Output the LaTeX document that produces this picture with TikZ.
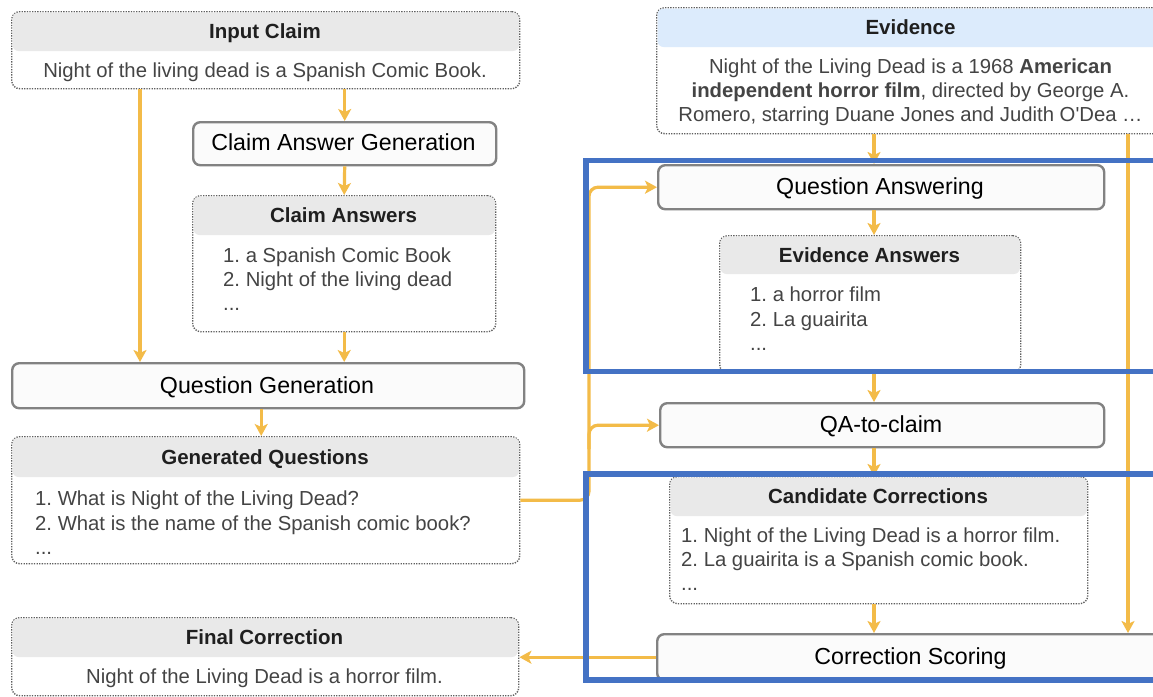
\documentclass[tikz,border=0pt]{standalone}
\usepackage{fontspec}
\setmainfont{Liberation Sans}[Ligatures=TeXOff]
\usetikzlibrary{arrows.meta,calc}
\definecolor{org}{RGB}{243,187,72}
\definecolor{blu}{RGB}{68,114,196}
\definecolor{hdr}{RGB}{233,233,233}
\definecolor{hdrblue}{RGB}{220,235,252}
\definecolor{bodytxt}{RGB}{68,68,68}
\definecolor{dotc}{RGB}{95,95,95}
\definecolor{procb}{RGB}{130,130,130}
\definecolor{procf}{RGB}{251,251,251}
\tikzset{
 infobox/.style={draw=dotc, line width=1.4pt, dash pattern=on 1.3pt off 1.3pt, rounded corners=8pt, inner sep=0pt, anchor=north west},
 procbox/.style={draw=procb, line width=2.4pt, fill=procf, rounded corners=7pt, inner sep=0pt, anchor=north west},
 hdrtxt/.style={font=\fontsize{20.5}{24}\selectfont\bfseries, text=black!88, anchor=base, inner sep=0pt},
 bodytext/.style={font=\fontsize{20.3}{24.5}\selectfont, text=bodytxt, anchor=base, inner sep=0pt},
 itemtext/.style={bodytext, anchor=base west},
 proctxt/.style={font=\fontsize{23.2}{28}\selectfont, text=black, anchor=base, inner sep=0pt},
 arr/.style={draw=org, line width=3.2pt, -{Stealth[length=12pt,width=13pt,inset=3pt]}},
 grpbox/.style={draw=blu, line width=5.5pt, inner sep=0pt, anchor=north west},
}
\frenchspacing
\begin{document}
\begin{tikzpicture}[x=1pt,y=-1pt]
\useasboundingbox (0,0) rectangle (1153,696);
\clip (0,0) rectangle (1153,696);
\fill[white] (0,0) rectangle (1153,696);
\coordinate (spine) at (874,0);
\coordinate (rail) at (1128,0);
\coordinate (bus) at (589,0);
% ---------- left column ----------
\node[infobox, minimum width=508pt, minimum height=77pt] (ic) at (11,11) {};
\fill[hdr, rounded corners=6pt] ([shift={(1.5pt,-1.5pt)}]ic.north west) rectangle ([shift={(-1.5pt,-40pt)}]ic.north east);
\node[hdrtxt] (ict) at (265,38.5) {Input Claim};
\node[bodytext] (icb) at (265,77.5) {Night of the living dead is a Spanish Comic Book.};

\node[procbox, minimum width=303pt, minimum height=43pt] (cag) at (192,121) {};
\node[proctxt] (cagt) at (343.5,150) {Claim Answer Generation};

\node[infobox, minimum width=303pt, minimum height=136pt] (ca) at (192,195) {};
\fill[hdr, rounded corners=6pt] ([shift={(1.5pt,-1.5pt)}]ca.north west) rectangle ([shift={(-1.5pt,-40pt)}]ca.north east);
\node[hdrtxt] (cat) at (343.5,222) {Claim Answers};
\node[itemtext] (ca1) at (223,262) {1. a Spanish Comic Book};
\node[itemtext] (ca2) at (223,286) {2. Night of the living dead};
\node[itemtext] (ca3) at (223,310) {...};

\node[procbox, minimum width=512pt, minimum height=45pt] (qg) at (11,362) {};
\node[proctxt] (qgt) at (267,393) {Question Generation};

\node[infobox, minimum width=508pt, minimum height=127pt] (gq) at (11,436) {};
\fill[hdr, rounded corners=6pt] ([shift={(1.5pt,-1.5pt)}]gq.north west) rectangle ([shift={(-1.5pt,-41pt)}]gq.north east);
\node[hdrtxt] (gqt) at (265,464) {Generated Questions};
\node[itemtext] (gq1) at (35,505) {1. What is Night of the Living Dead?};
\node[itemtext] (gq2) at (35,530) {2. What is the name of the Spanish comic book?};
\node[itemtext] (gq3) at (35,554) {...};

\node[infobox, minimum width=507pt, minimum height=78pt] (fc) at (11,617) {};
\fill[hdr, rounded corners=6pt] ([shift={(1.5pt,-1.5pt)}]fc.north west) rectangle ([shift={(-1.5pt,-40pt)}]fc.north east);
\node[hdrtxt] (fct) at (264.5,644) {Final Correction};
\node[bodytext] (fcb) at (264.5,683) {Night of the Living Dead is a horror film.};
% ---------- right column ----------
\node[infobox, minimum width=509pt, minimum height=126pt] (ev) at (656,7) {};
\fill[hdrblue, rounded corners=6pt] ([shift={(1.5pt,-1.5pt)}]ev.north west) rectangle ([shift={(-1.5pt,-40pt)}]ev.north east);
\node[hdrtxt] (evt) at (910.5,34.5) {Evidence};
\node[bodytext] (ev1) at (910.5,73.5) {Night of the Living Dead is a 1968 \textbf{American}};
\node[bodytext] (ev2) at (910.5,97.5) {\textbf{independent horror film}, directed by George A.};
\node[bodytext] (ev3) at (910.5,121.5) {Romero, starring Duane Jones and Judith O'Dea …};

\node[procbox, minimum width=446pt, minimum height=44pt] (qa) at (657,164) {};
\node[proctxt] (qat) at (880,194.5) {Question Answering};

\node[infobox, minimum width=301pt, minimum height=137pt] (ea) at (719,235) {};
\fill[hdr, rounded corners=6pt] ([shift={(1.5pt,-1.5pt)}]ea.north west) rectangle ([shift={(-1.5pt,-39pt)}]ea.north east);
\node[hdrtxt] (eat) at (869.5,262) {Evidence Answers};
\node[itemtext] (ea1) at (750,301) {1. a horror film};
\node[itemtext] (ea2) at (750,326) {2. La guairita};
\node[itemtext] (ea3) at (750,350) {...};

\node[procbox, minimum width=444pt, minimum height=44pt] (qac) at (659,402) {};
\node[proctxt] (qact) at (881,432) {QA-to-claim};

\node[infobox, minimum width=418pt, minimum height=127pt] (cc) at (669,476) {};
\fill[hdr, rounded corners=6pt] ([shift={(1.5pt,-1.5pt)}]cc.north west) rectangle ([shift={(-1.5pt,-40pt)}]cc.north east);
\node[hdrtxt] (cct) at (878,503) {Candidate Corrections};
\node[itemtext] (cc1) at (681,542) {1. Night of the Living Dead is a horror film.};
\node[itemtext] (cc2) at (681,566) {2. La guairita is a Spanish comic book.};
\node[itemtext] (cc3) at (681,590) {...};

\node[procbox, minimum width=509pt, minimum height=46pt] (cs) at (656,633) {};
\node[proctxt] (cst) at (910.5,664) {Correction Scoring};
% ---------- connectors ----------
\draw[arr] (ic.south -| cag.north) -- (cag.north);
\draw[arr] ([xshift=129pt]ic.south west) -- ([xshift=129pt]ic.south west |- qg.north);
\draw[arr] (cag.south) -- (ca.north);
\draw[arr] (ca.south) -- (ca.south |- qg.north);
\draw[arr] ([xshift=-7pt]qg.south) -- ([xshift=-7pt]qg.south |- gq.north);
\draw[arr] (ev.south -| spine) -- (qa.north -| spine);
\draw[arr] (ev.south -| rail) -- (cs.north -| rail);
\draw[arr] (qa.south -| spine) -- (ea.north -| spine);
\draw[arr] (ea.south -| spine) -- (qac.north -| spine);
\draw[arr] (qac.south -| spine) -- (cc.north -| spine);
\draw[arr] (cc.south -| spine) -- (cs.north -| spine);
\draw[arr, rounded corners=9pt] (gq.east) -| (bus |- qa.west) -- (qa.west);
\draw[arr, rounded corners=9pt] ([yshift=-24pt]bus |- qac.west) -- (bus |- qac.west) -- (qac.west);
\draw[arr] (cs.west) -- (cs.west -| fc.east);
% ---------- groups ----------
\node[grpbox, minimum width=600pt, minimum height=211pt] (g1) at (583,157.5) {};
\node[grpbox, minimum width=600pt, minimum height=206pt] (g2) at (583,471) {};
\end{tikzpicture}
\end{document}
